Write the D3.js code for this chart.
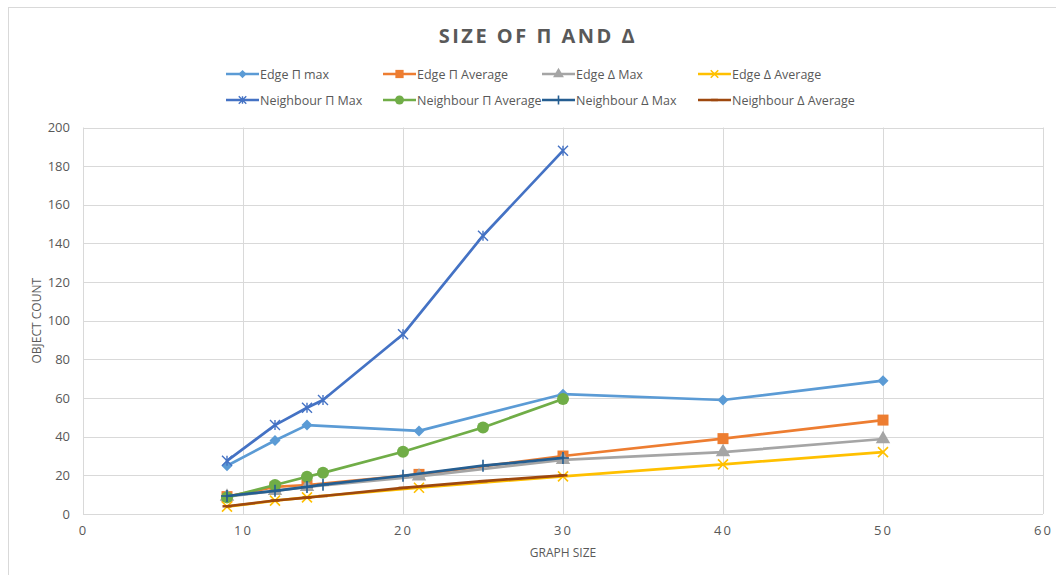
<!DOCTYPE html>
<html>
<head>
<meta charset="utf-8">
<script src="https://cdn.jsdelivr.net/npm/d3@7"></script>
<style>
  html, body { margin: 0; padding: 0; background: #fff; }
  svg { display: block; }
  text { font-family: "Open Sans", "Noto Sans", sans-serif; }
</style>
</head>
<body>
<svg id="chart" width="1056" height="575"></svg>
<script>
// Graph sizes measured for each family of series
const edgeSizes = [9, 12, 14, 21, 30, 40, 50];
const neighbourSizes = [9, 12, 14, 15, 20, 25, 30];

// Object counts per series
const edgePiMax = [25, 38, 46, 43, 62, 59, 69];
const edgePiAverage = [9, 14, 15, 20.5, 30, 39, 48.6];
const edgeDeltaMax = [9, 12, 14, 19.5, 28, 32, 38.8];
const edgeDeltaAverage = [3.8, 6.9, 8.6, 13.6, 19.5, 25.7, 32];
const neighbourPiMax = [27.5, 46, 55, 59, 93, 144, 188];
const neighbourPiAverage = [8.6, 15, 19.3, 21.3, 32.2, 44.8, 59.5];
const neighbourDeltaMax = [9.3, 12, 14, 15.2, 19.8, 25, 29];
const neighbourDeltaAverage = [4, 7, 8.5, 9.3, 13.5, 17, 20];

const seriesNames = [
  "Edge \u03A0 max", "Edge \u03A0 Average", "Edge \u0394 Max", "Edge \u0394 Average",
  "Neighbour \u03A0 Max", "Neighbour \u03A0 Average", "Neighbour \u0394 Max", "Neighbour \u0394 Average"
];
const xTicks = [0, 10, 20, 30, 40, 50, 60];
const yTicks = [0, 20, 40, 60, 80, 100, 120, 140, 160, 180, 200];

const series = [
  { name: seriesNames[0], xs: edgeSizes, ys: edgePiMax, color: "#5B9BD5", marker: "diamond" },
  { name: seriesNames[1], xs: edgeSizes, ys: edgePiAverage, color: "#ED7D31", marker: "square" },
  { name: seriesNames[2], xs: edgeSizes, ys: edgeDeltaMax, color: "#A5A5A5", marker: "triangle" },
  { name: seriesNames[3], xs: edgeSizes, ys: edgeDeltaAverage, color: "#FFC000", marker: "x" },
  { name: seriesNames[4], xs: neighbourSizes, ys: neighbourPiMax, color: "#4472C4", marker: "star" },
  { name: seriesNames[5], xs: neighbourSizes, ys: neighbourPiAverage, color: "#70AD47", marker: "circle" },
  { name: seriesNames[6], xs: neighbourSizes, ys: neighbourDeltaMax, color: "#255E91", marker: "plus" },
  { name: seriesNames[7], xs: neighbourSizes, ys: neighbourDeltaAverage, color: "#9E480E", marker: "dash" }
];

const svg = d3.select("#chart");

// outer chart frame
svg.append("rect")
  .attr("x", 8.5).attr("y", 7.5).attr("width", 1100).attr("height", 600)
  .attr("fill", "none").attr("stroke", "#d9d9d9").attr("stroke-width", 1);

const plot = { left: 83, right: 1043, top: 127.5, bottom: 514 };
const x = d3.scaleLinear().domain([0, 60]).range([plot.left, plot.right]);
const y = d3.scaleLinear().domain([0, 200]).range([plot.bottom, plot.top]);

// gridlines
const grid = svg.append("g");
grid.selectAll("line.h").data(yTicks).join("line")
  .attr("x1", plot.left).attr("x2", plot.right)
  .attr("y1", d => Math.round(y(d)) + 0.5).attr("y2", d => Math.round(y(d)) + 0.5)
  .attr("stroke", "#d9d9d9").attr("stroke-width", 1);
grid.selectAll("line.v").data(xTicks).join("line")
  .attr("y1", plot.top).attr("y2", plot.bottom)
  .attr("x1", d => Math.round(x(d)) + 0.5).attr("x2", d => Math.round(x(d)) + 0.5)
  .attr("stroke", "#d9d9d9").attr("stroke-width", 1);

// axes (labels only, Excel-style)
const xAxis = svg.append("g")
  .attr("transform", `translate(0,${plot.bottom + 9})`)
  .call(d3.axisBottom(x).tickValues(xTicks).tickSize(0).tickFormat(d => d));
xAxis.select(".domain").remove();
xAxis.selectAll("text")
  .attr("fill", "#595959").attr("font-size", 13).attr("letter-spacing", 2)
  .attr("font-family", "'Open Sans', sans-serif");

const yAxis = svg.append("g")
  .attr("transform", `translate(${plot.left - 10},0)`)
  .call(d3.axisLeft(y).tickValues(yTicks).tickSize(0).tickFormat(d => d));
yAxis.select(".domain").remove();
yAxis.selectAll("text")
  .attr("fill", "#595959").attr("font-size", 13)
  .attr("font-family", "'Open Sans', sans-serif");

// axis titles
svg.append("text")
  .attr("x", x(30)).attr("y", 557)
  .attr("text-anchor", "middle").attr("fill", "#595959").attr("font-size", 12)
  .text("GRAPH SIZE");
svg.append("text")
  .attr("transform", `translate(41,${y(100)}) rotate(-90)`)
  .attr("text-anchor", "middle").attr("fill", "#595959").attr("font-size", 12)
  .text("OBJECT COUNT");

// chart title
svg.append("text")
  .attr("x", 538).attr("y", 43)
  .attr("text-anchor", "middle").attr("fill", "#595959")
  .attr("font-size", 20).attr("font-weight", "bold").attr("letter-spacing", 2.5)
  .text("SIZE OF \u03A0 AND \u0394");

// marker drawing
function drawMarker(g, type, color, size) {
  const s = size, h = size / 2;
  switch (type) {
    case "diamond":
      g.append("path").attr("d", `M0,${-h}L${h},0L0,${h}L${-h},0Z`)
        .attr("fill", color); break;
    case "square":
      g.append("rect").attr("x", -s / 2).attr("y", -s / 2).attr("width", s).attr("height", s)
        .attr("fill", color); break;
    case "triangle":
      g.append("path").attr("d", d3.symbol(d3.symbolTriangle, s * s * 0.75)())
        .attr("fill", color); break;
    case "circle":
      g.append("circle").attr("r", s / 2).attr("fill", color); break;
    case "x":
      g.append("path").attr("d", `M${-h},${-h}L${h},${h}M${-h},${h}L${h},${-h}`)
        .attr("stroke", color).attr("stroke-width", 1.6).attr("fill", "none"); break;
    case "star":
      g.append("path").attr("d", `M${-h},${-h}L${h},${h}M${-h},${h}L${h},${-h}M0,${-h}L0,${h}`)
        .attr("stroke", color).attr("stroke-width", 1.4).attr("fill", "none"); break;
    case "plus":
      g.append("path").attr("d", `M${-h},0L${h},0M0,${-h}L0,${h}`)
        .attr("stroke", color).attr("stroke-width", 1.6).attr("fill", "none"); break;
    case "dash":
      g.append("path").attr("d", `M${-h},0L${h},0`)
        .attr("stroke", color).attr("stroke-width", 2.4).attr("fill", "none"); break;
  }
}

const markerSize = { diamond: 11, square: 11, triangle: 11, circle: 12, x: 10, star: 10, plus: 12, dash: 9 };

// series lines and markers
const line = d3.line().x(d => x(d[0])).y(d => y(d[1]));
const plotG = svg.append("g");
series.forEach(s => {
  const pts = s.xs.map((v, i) => [v, s.ys[i]]);
  const g = plotG.append("g");
  g.append("path").datum(pts).attr("d", line)
    .attr("fill", "none").attr("stroke", s.color).attr("stroke-width", 2.7)
    .attr("stroke-linejoin", "round").attr("stroke-linecap", "round");
  pts.forEach(p => {
    const m = g.append("g").attr("transform", `translate(${x(p[0])},${y(p[1])})`);
    drawMarker(m, s.marker, s.color, markerSize[s.marker]);
  });
});

// legend
const legendCols = [226, 383, 542, 698];
const legendRows = [74, 100];
const legend = svg.append("g");
series.forEach((s, i) => {
  const lx = legendCols[i % 4], ly = legendRows[Math.floor(i / 4)];
  const g = legend.append("g").attr("transform", `translate(${lx},${ly})`);
  g.append("line").attr("x1", 0).attr("x2", 33).attr("y1", 0).attr("y2", 0)
    .attr("stroke", s.color).attr("stroke-width", 2.7);
  const m = g.append("g").attr("transform", "translate(16.5,0)");
  drawMarker(m, s.marker, s.color, markerSize[s.marker] * 0.75);
  g.append("text").attr("x", 34).attr("y", 4.5)
    .attr("fill", "#595959").attr("font-size", 12.5)
    .text(s.name);
});
</script>
</body>
</html>
